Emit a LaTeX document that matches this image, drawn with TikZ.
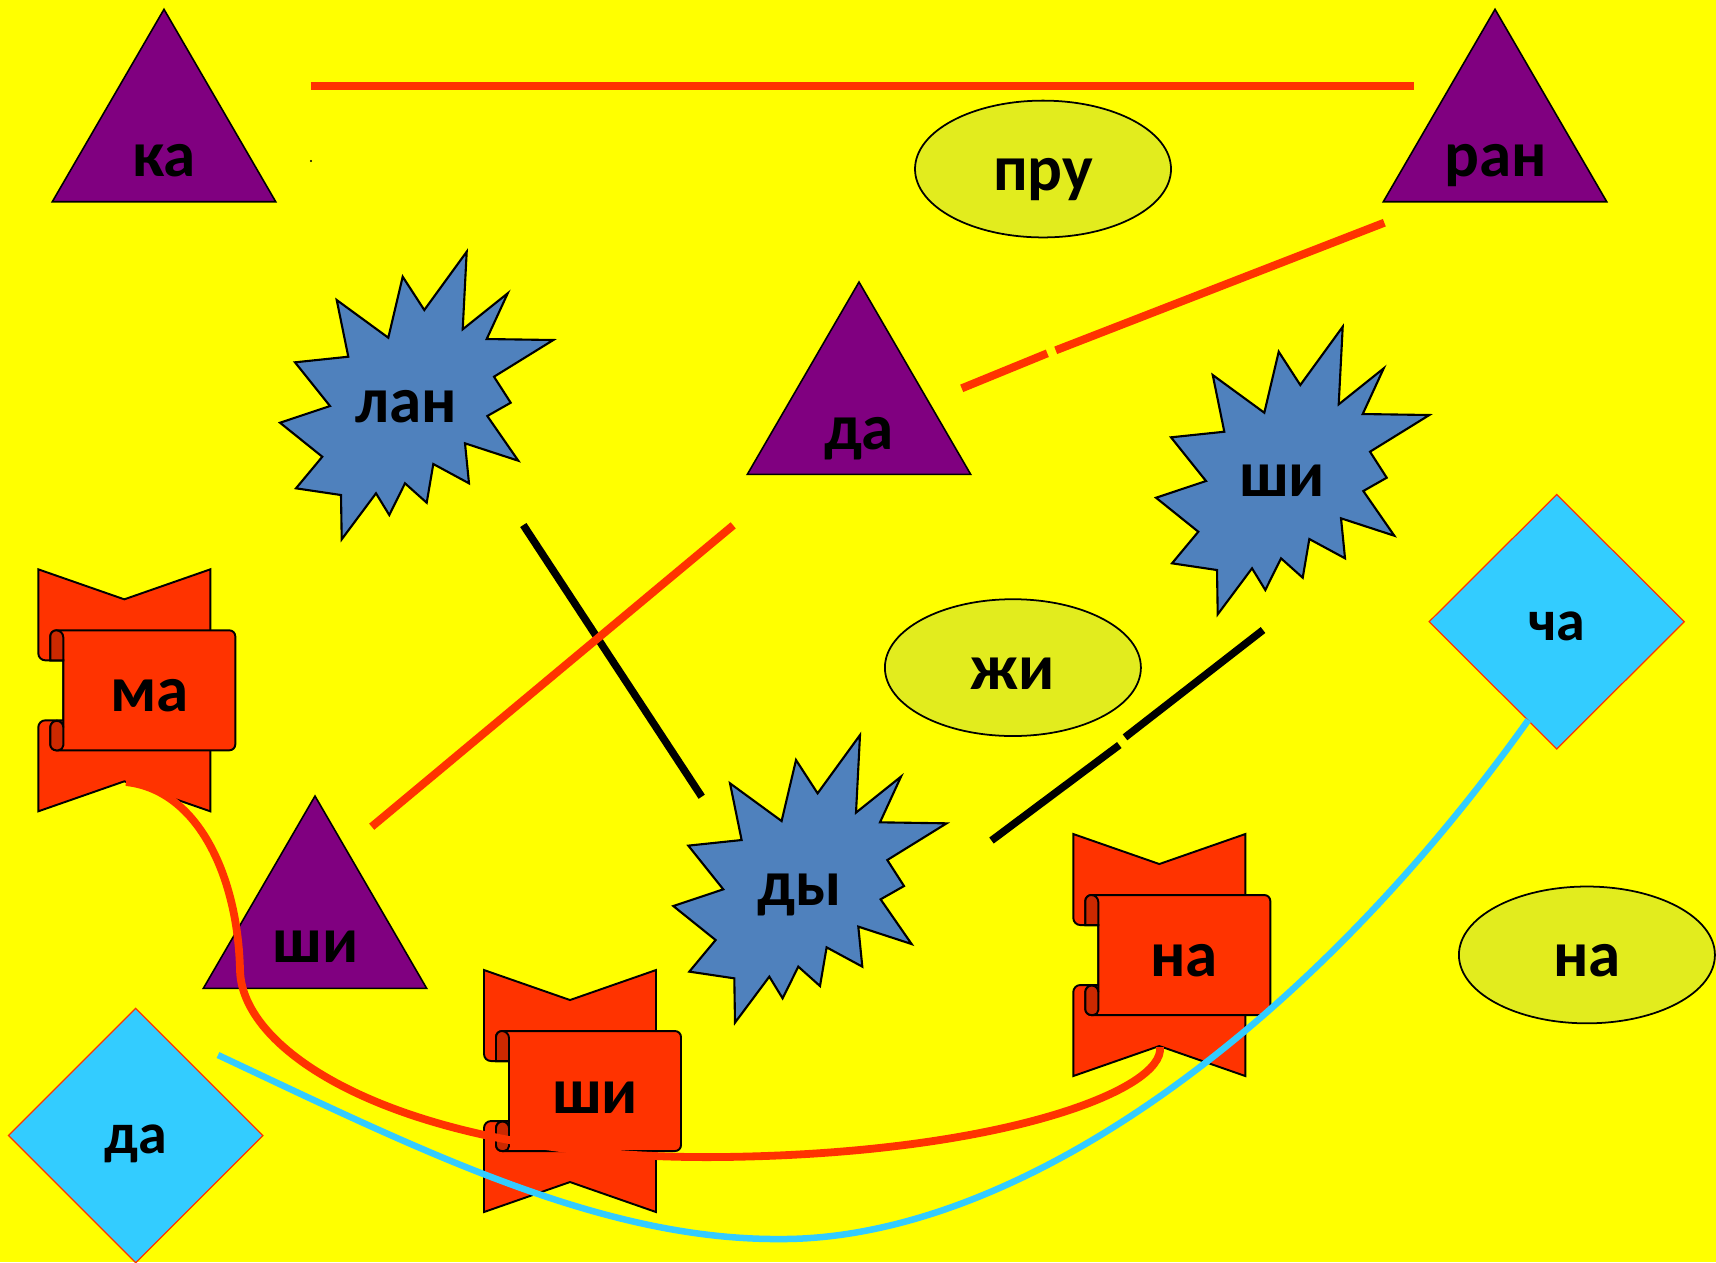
\documentclass[tikz,border=0pt]{standalone}
\usepackage{fontspec}
\setmainfont{Carlito}
\definecolor{bg}{RGB}{255,255,0}
\definecolor{purp}{RGB}{128,0,128}
\definecolor{burstblue}{RGB}{79,129,189}
\definecolor{cyanfill}{RGB}{51,204,255}
\definecolor{redor}{RGB}{255,51,0}
\definecolor{rolldark}{RGB}{204,41,0}
\definecolor{ellfill}{RGB}{226,236,30}
\definecolor{blueline}{RGB}{51,204,255}
\tikzset{
  lbl/.style={font=\bfseries\fontsize{18.5}{20}\selectfont, anchor=base, inner sep=0pt},
  lbls/.style={font=\bfseries\fontsize{16.5}{18}\selectfont, anchor=base, inner sep=0pt},
  trishape/.style={fill=purp, draw=black, line width=0.45pt},
  ellshape/.style={fill=ellfill, draw=black, line width=0.5pt},
  diashape/.style={fill=cyanfill, draw=redor, line width=0.35pt},
  burststyle/.style={fill=burstblue, draw=black, line width=0.6pt, line join=miter},
  scrollpart/.style={fill=redor, draw=black, line width=0.55pt},
  rollpart/.style={fill=rolldark, draw=black, line width=0.55pt},
  redline/.style={draw=redor, line width=0.08cm},
  blackline/.style={draw=black, line width=0.075cm},
  redcurve/.style={draw=redor, line width=0.078cm},
  bluecurve/.style={draw=blueline, line width=0.065cm},
  burst/.pic={
    \draw[burststyle] (186.7,0) -- (182.7,77.6) -- (227.7,41.6) -- (206.7,87.3) -- (273.3,88.3)
      -- (214,125) -- (230.7,151) -- (207.3,164.3) -- (238.3,209) -- (185,191.6)
      -- (189,231.6) -- (153.3,212.3) -- (146.7,251) -- (125,231.6) -- (109.3,263.3)
      -- (96,241.6) -- (61.7,287.6) -- (61,243.3) -- (16,236.6) -- (42.3,205)
      -- (0,171) -- (50,154.3) -- (15,110.6) -- (68.3,105) -- (56.7,48.3)
      -- (108.3,86) -- (122.7,25) -- (144.3,58.3) -- cycle;
  },
  ribbonscroll/.pic={
    \draw[scrollpart] (0,0) -- (86,30) -- (172,0) -- (172,242) -- (86,212) -- (0,242)
      -- (0,158) arc[start angle=180,end angle=270,radius=7] -- (25,151) -- (25,91)
      -- (7,91) arc[start angle=90,end angle=180,radius=7] -- cycle;
    \draw[scrollpart] (12,91) -- (12,67) arc[start angle=180,end angle=270,radius=6]
      -- (191,61) arc[start angle=270,end angle=360,radius=6]
      -- (197,175) arc[start angle=0,end angle=90,radius=6]
      -- (18,181) arc[start angle=90,end angle=180,radius=6]
      -- (12,158) arc[start angle=180,end angle=360,radius=6.5]
      -- (25,91) -- cycle;
    \draw[rollpart] (12,91) -- (12,67) arc[start angle=180,end angle=270,radius=6]
      arc[start angle=270,end angle=360,radius=7] -- (25,91) -- cycle;
    \draw[rollpart] (12,158) arc[start angle=180,end angle=360,radius=6.5]
      -- (25,176) arc[start angle=0,end angle=90,radius=5]
      -- (18,181) arc[start angle=90,end angle=180,radius=6] -- cycle;
  }
}
\begin{document}
\begin{tikzpicture}[x=0.01cm,y=-0.01cm]
\fill[bg] (0,0) rectangle (1716,1262);
\useasboundingbox (0,0) rectangle (1716,1262);

% triangles
\draw[trishape] (164,9.3) -- (275.7,201.7) -- (52.3,201.7) -- cycle;
\draw[trishape] (1495,9.3) -- (1606.7,201.7) -- (1383.3,201.7) -- cycle;
\draw[trishape] (859,282) -- (970.7,474.4) -- (747.3,474.4) -- cycle;
\draw[trishape] (315,796) -- (426.7,988.4) -- (203.3,988.4) -- cycle;

% ellipses
\draw[ellshape] (1043,169) ellipse[x radius=128, y radius=68.4];
\draw[ellshape] (1012.9,667.6) ellipse[x radius=128, y radius=68.4];
\draw[ellshape] (1586.9,954.9) ellipse[x radius=128, y radius=68.4];

% starbursts
\pic at (280,251.7) {burst};
\pic at (673.3,735) {burst};
\pic at (1156,326.7) {burst};

% diamonds
\draw[diashape] (1556.7,494.5) -- (1684.3,621.7) -- (1556.7,748.9) -- (1429.1,621.7) -- cycle;
\draw[diashape] (135.7,1008.3) -- (262.9,1135.5) -- (135.7,1262.7) -- (8.5,1135.5) -- cycle;

% scrolls
\pic at (38.3,569.3) {ribbonscroll};
\pic at (1073.3,834) {ribbonscroll};
\pic at (484,970) {ribbonscroll};

% labels
\node[lbl] (tka) at (164,176.7) {ка};
\node[lbl] (tran) at (1495.8,176.7) {ран};
\node[lbl] (tda) at (859,449.5) {да};
\node[lbl] (tshit) at (315.8,962) {ши};
\node[lbl] (tpru) at (1043,190.5) {пру};
\node[lbl] (tzhi) at (1012.9,689) {жи};
\node[lbl] (tnae) at (1586.9,976.3) {на};
\node[lbl] (tlan) at (406,422.7) {лан};
\node[lbl] (tdy) at (799.3,905.5) {ды};
\node[lbl] (tshib) at (1282,496.7) {ши};
\node[lbl] (tma) at (149.3,711.7) {ма};
\node[lbl] (tna) at (1184.3,976.7) {на};
\node[lbl] (tshis) at (595,1113.3) {ши};
\node[lbls] (tcha) at (1556.7,640) {ча};
\node[lbls] (tdad) at (135.7,1153.3) {да};

% straight lines
\coordinate (h1) at (310.8,85.8);
\coordinate (h2) at (1414,85.8);
\coordinate (r2a) at (961.7,388.3);
\coordinate (r2b) at (1047.3,353.3);
\coordinate (r2c) at (1055.7,350.3);
\coordinate (r2d) at (1384.3,222.7);
\coordinate (b1a) at (523.3,525);
\coordinate (b1b) at (701.7,796.7);
\coordinate (r3a) at (371.7,826.7);
\coordinate (r3b) at (733.2,525.3);
\coordinate (b2a) at (991.5,840.5);
\coordinate (b2b) at (1119.3,745);
\coordinate (b2c) at (1125,737.3);
\coordinate (b2d) at (1263,630);
\fill (311,161) circle[radius=1.2];

\draw[redline] (h1) -- (h2);
\draw[redline] (r2a) -- (r2b);
\draw[redline] (r2c) -- (r2d);
\draw[blackline] (b1a) -- (b1b);
\draw[redline] (r3a) -- (r3b);
\draw[blackline] (b2a) -- (b2b);
\draw[blackline] (b2c) -- (b2d);

% curves
\coordinate (rc0) at (126,782);
\coordinate (rc1) at (240,970);
\coordinate (rc2) at (720,1157);
\coordinate (rc3) at (1160,1047);
\draw[redcurve] (rc0) .. controls (200,790) and (238,880) .. (rc1)
  .. controls (242,1060) and (420,1160) .. (rc2)
  .. controls (1000,1154) and (1165,1090) .. (rc3);
\coordinate (bc0) at (218,1055);
\coordinate (bc1) at (780,1239);
\coordinate (bc2) at (1528.3,720);
\draw[bluecurve] (bc0) .. controls (420,1150) and (600,1240) .. (bc1)
  .. controls (1010,1240) and (1300,1040) .. (bc2);
\end{tikzpicture}
\end{document}
